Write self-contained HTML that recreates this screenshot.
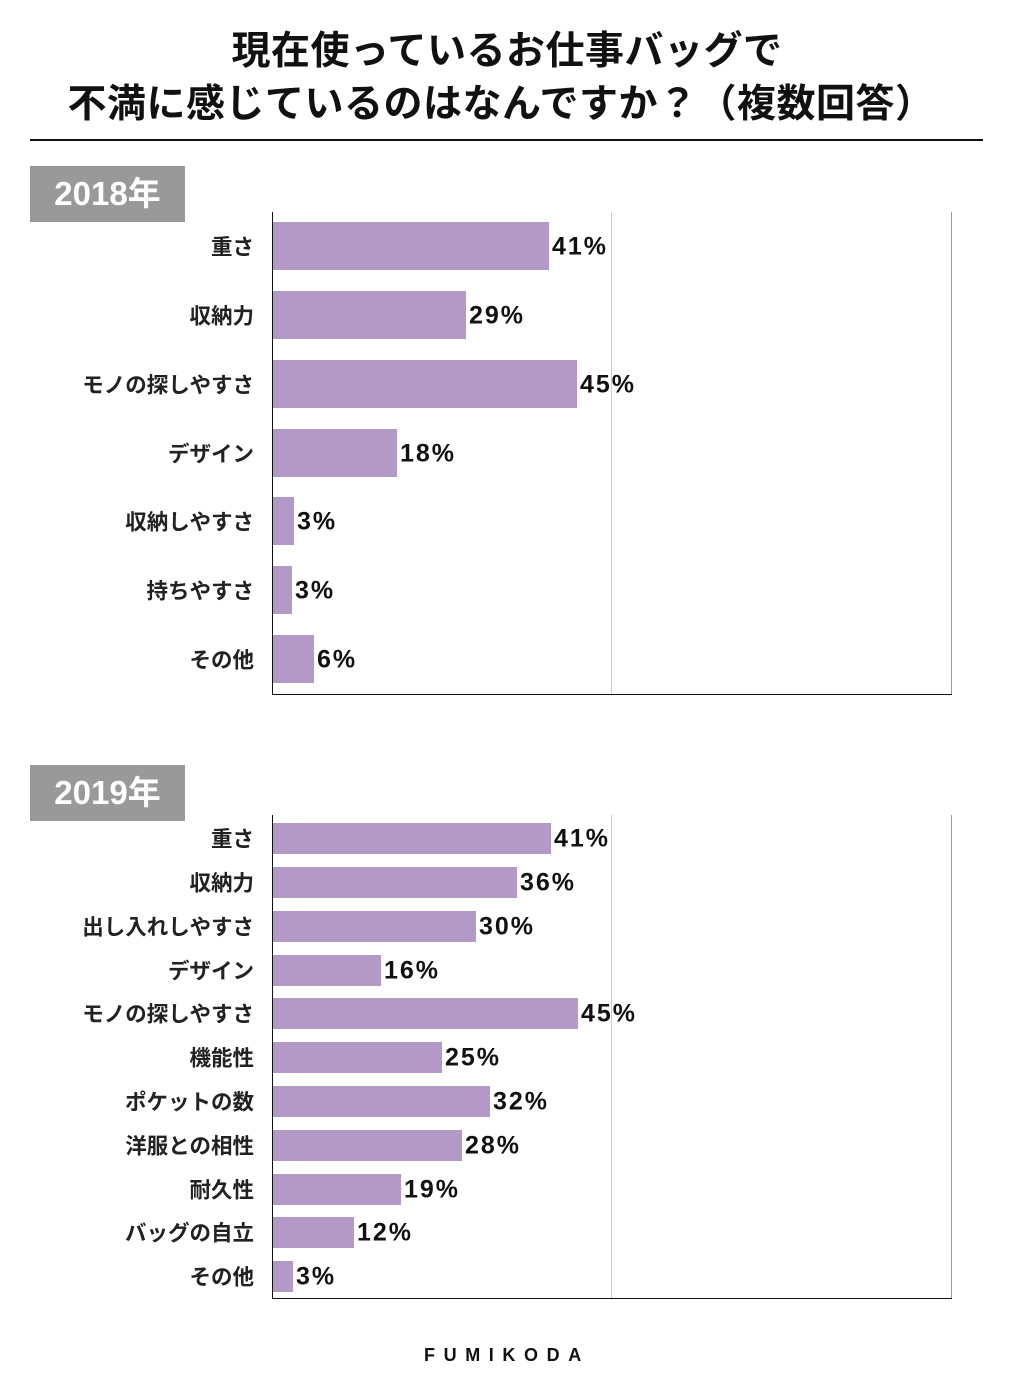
<!DOCTYPE html>
<html><head><meta charset="utf-8">
<style>
body{margin:0;width:1024px;height:1400px;background:#fff;position:relative;overflow:hidden;font-family:"Liberation Sans","Noto Sans CJK JP",sans-serif;}
.a{position:absolute;}
.t{position:absolute;left:0;width:1024px;text-align:center;font-weight:bold;font-size:39px;color:#111;white-space:nowrap;letter-spacing:0.5px}
.lab{position:absolute;right:770px;font-size:21.5px;font-weight:bold;color:#222;white-space:nowrap;transform:translateY(-50%);}
.val{position:absolute;font-size:25px;font-weight:bold;color:#111;transform:translateY(-50%);white-space:nowrap;letter-spacing:2px}
.bar{position:absolute;left:273px;background:#b39ac6;}
.yr{position:absolute;left:30px;width:155px;height:56px;background:#999;color:#fff;font-size:33px;font-weight:bold;text-align:center;line-height:56px;}
</style></head><body>
<div class="t" style="top:20px;left:-5px">現在使っているお仕事バッグで</div>
<div class="t" style="top:73px;left:-11px">不満に感じているのはなんですか？（複数回答）</div>
<div class="a" style="left:30px;top:139px;width:953px;height:2px;background:#111"></div>
<div class="yr" style="top:166px">2018年</div>
<div class="yr" style="top:765px">2019年</div>
<div class="a" style="left:424px;top:1345px;font-size:18px;font-weight:bold;letter-spacing:8.6px;color:#111">FUMIKODA</div>
<div id="c"></div>
<script>
function chart(top,bottom,centers,h,labels,ends,vals){
 var s='';
 s+='<div class="a" style="left:611px;top:'+top+'px;width:1px;height:'+(bottom-top)+'px;background:#ccc"></div>';
 s+='<div class="a" style="left:951px;top:'+top+'px;width:1px;height:'+(bottom-top)+'px;background:#999"></div>';
 s+='<div class="a" style="left:272px;top:'+top+'px;width:1px;height:'+(bottom-top)+'px;background:#111"></div>';
 s+='<div class="a" style="left:272px;top:'+bottom+'px;width:680px;height:1px;background:#111"></div>';
 for(var i=0;i<centers.length;i++){
  var c=centers[i];
  s+='<div class="bar" style="top:'+(c-h/2)+'px;height:'+h+'px;width:'+(ends[i]-273)+'px"></div>';
  s+='<div class="lab" style="top:'+c+'px">'+labels[i]+'</div>';
  s+='<div class="val" style="left:'+(ends[i]+3)+'px;top:'+(c+1)+'px">'+vals[i]+'%</div>';
 }
 return s;
}
var h=chart(212,694,[246,315,384,453,521,590,659],48,
['重さ','収納力','モノの探しやすさ','デザイン','収納しやすさ','持ちやすさ','その他'],
[549,466,577,397,294,292,314],[41,29,45,18,3,3,6]);
h+=chart(815,1298,[838,882,926,970,1013,1057,1101,1145,1189,1232,1276],31,
['重さ','収納力','出し入れしやすさ','デザイン','モノの探しやすさ','機能性','ポケットの数','洋服との相性','耐久性','バッグの自立','その他'],
[551,517,476,381,578,442,490,462,401,354,293],[41,36,30,16,45,25,32,28,19,12,3]);
document.getElementById('c').innerHTML=h;
</script>
</body></html>
